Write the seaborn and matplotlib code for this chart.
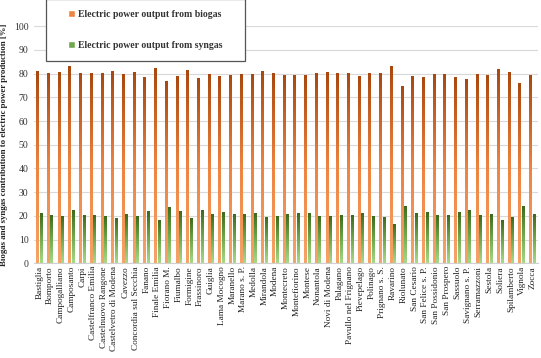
import numpy as np
import pandas as pd
import matplotlib
matplotlib.use("Agg")
import matplotlib.pyplot as plt
from matplotlib.colors import LinearSegmentedColormap
from matplotlib.patches import Patch, Rectangle
import seaborn as sns

municipalities = [
    "Bastiglia", "Bomporto", "Campogalliano", "Camposanto", "Carpi",
    "Castelfranco Emilia", "Castelnuovo Rangone", "Castelvetro di Modena",
    "Cavezzo", "Concordia sul Secchia", "Fanano", "Finale Emilia",
    "Fiorano M.", "Fiumalbo", "Formigine", "Frassinoro", "Guiglia",
    "Lama Mocogno", "Maranello", "Marano s. P.", "Medolla", "Mirandola",
    "Modena", "Montecreto", "Montefiorino", "Montese", "Nonantola",
    "Novi di Modena", "Palagano", "Pavullo nel Frignano", "Pievepelago",
    "Polinago", "Prignano s. S.", "Ravarino", "Riolunato", "San Cesario",
    "San Felice s. P.", "San Possidonio", "San Prospero", "Sassuolo",
    "Savignano s. P.", "Serramazzoni", "Sestola", "Soliera", "Spilamberto",
    "Vignola", "Zocca",
]

biogas = [
    80.7, 79.7, 80.4, 82.8, 79.7, 79.9, 80.0, 80.7, 79.4, 80.3, 78.3, 82.2,
    76.4, 78.5, 81.3, 77.6, 79.4, 78.5, 79.2, 79.4, 79.4, 80.6, 80.0, 78.9,
    78.9, 78.9, 80.0, 80.3, 79.7, 79.7, 78.6, 79.7, 80.1, 82.8, 74.3, 78.6,
    78.2, 79.4, 79.6, 78.1, 77.2, 79.3, 78.9, 81.7, 80.4, 75.8, 79.0,
]

syngas = [
    20.9, 20.0, 19.7, 22.3, 20.1, 20.0, 19.7, 18.9, 20.3, 19.4, 21.6, 17.9,
    23.6, 21.9, 18.6, 22.0, 20.3, 21.4, 20.6, 20.6, 20.7, 19.0, 19.7, 20.3,
    20.9, 20.7, 19.7, 19.7, 20.0, 20.0, 21.0, 19.8, 19.3, 16.1, 23.7, 20.8,
    21.4, 20.1, 20.1, 21.4, 22.1, 20.1, 20.5, 17.9, 19.0, 23.9, 20.4,
]

series = ["Electric power output from biogas", "Electric power output from syngas"]

df = pd.DataFrame({
    "Municipality": municipalities * 2,
    "Source": [series[0]] * len(municipalities) + [series[1]] * len(municipalities),
    "Value": biogas + syngas,
})

orange_cmap = LinearSegmentedColormap.from_list("org", ["#f6a468", "#ee8440", "#a8480f"])
green_cmap = LinearSegmentedColormap.from_list("grn", ["#a8da8a", "#6fa84c", "#3b6a1e"])

sns.set_style("white")
plt.rcParams["font.family"] = ["Liberation Serif", "DejaVu Serif"]

fig = plt.figure(figsize=(5.41, 3.58), dpi=100)
ax = fig.add_axes([0.063, 0.2645, 0.931, 0.6625])

sns.barplot(data=df, x="Municipality", y="Value", hue="Source",
            palette=["#ee8440", "#5e9a3a"], width=0.66, gap=0.18,
            legend=False, ax=ax)

ax.set_ylim(0, 100)
ax.set_xlim(-0.5, len(municipalities) - 0.5)
xl, yl = ax.get_xlim(), ax.get_ylim()

# Excel-like vertical gradient on every bar
grad = np.linspace(0, 1, 256).reshape(-1, 1)
n = len(municipalities)
for i, bar in enumerate(ax.patches[:2 * n]):
    cmap = orange_cmap if i < n else green_cmap
    x0, w, h = bar.get_x(), bar.get_width(), bar.get_height()
    ax.imshow(grad, extent=[x0, x0 + w, 0, h], origin="lower", cmap=cmap,
              aspect="auto", zorder=bar.get_zorder())
    bar.set_facecolor("none")
    bar.set_edgecolor("none")
ax.set_xlim(xl)
ax.set_ylim(yl)

ax.set_yticks(range(0, 101, 10))
ax.yaxis.grid(True, color="#d9d9d9", linewidth=0.8)
ax.set_axisbelow(True)
for s in ["top", "right", "left"]:
    ax.spines[s].set_visible(False)
ax.spines["bottom"].set_color("#d0d0d0")
ax.tick_params(axis="y", length=0, labelsize=7, colors="#333333", pad=4)
ax.tick_params(axis="x", length=0, labelsize=6.7, colors="#222222", pad=2)
plt.setp(ax.get_xticklabels(), rotation=90)

ax.set_xlabel("")
ax.set_ylabel("Biogas and syngas contribution to electric power production [%]",
              fontsize=6.3, fontweight="bold", color="#222222", labelpad=4)

# legend box
fig.patches.append(Rectangle((0.085, 0.83), 0.368, 0.172, transform=fig.transFigure,
                             facecolor="white", edgecolor="#555555", linewidth=0.9,
                             zorder=5))
handles = [Patch(facecolor="#ee8440"), Patch(facecolor="#6fa84c")]
leg = fig.legend(handles, series, loc="center", bbox_to_anchor=(0.269, 0.916),
                 frameon=False, fontsize=7, labelspacing=2.3, handlelength=0.7,
                 handleheight=0.7, handletextpad=0.3)
leg.set_zorder(6)
for t in leg.get_texts():
    t.set_fontweight("bold")
    t.set_color("#333333")

fig.savefig("out.png", dpi=100)
